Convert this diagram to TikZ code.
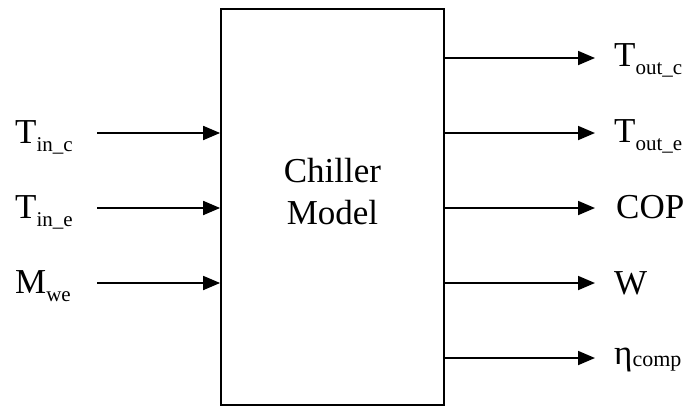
\documentclass[tikz,border=0pt]{standalone}
\usepackage{fontspec}
\setmainfont{Liberation Serif}
\usetikzlibrary{arrows.meta}
\newcommand\lsub[1]{\raisebox{-8pt}{\fontsize{21}{21}\selectfont #1}}
\newcommand\esub[1]{\raisebox{-2pt}{\fontsize{22}{22}\selectfont #1}}
\begin{document}
\begin{tikzpicture}[x=1pt,y=-1pt,
  sig/.style={line width=1.8pt,-{Triangle[length=17pt,width=14pt]}},
  lab/.style={anchor=base west,inner sep=0pt,font=\fontsize{35}{42}\selectfont},
  blk/.style={draw,line width=1.8pt,minimum width=223pt,minimum height=396pt,inner sep=0pt}]
\useasboundingbox (0,0) rectangle (691,408);
\node[blk] (box) at (332.5,207) {};
\node[align=center,font=\fontsize{35}{42}\selectfont,inner sep=0pt] (txt) at (332.5,192) {Chiller\\Model};
% inputs
\coordinate (i1) at (97,133);
\coordinate (i2) at (97,208);
\coordinate (i3) at (97,283);
\draw[sig] (i1) -- (i1 -| box.west);
\draw[sig] (i2) -- (i2 -| box.west);
\draw[sig] (i3) -- (i3 -| box.west);
\node[lab] (l1) at (15,143) {T\lsub{in\_c}};
\node[lab] (l2) at (15,218) {T\lsub{in\_e}};
\node[lab] (l3) at (15,293) {M\lsub{we}};
% outputs
\coordinate (o1) at (595,58);
\coordinate (o2) at (595,133);
\coordinate (o3) at (595,208);
\coordinate (o4) at (595,283);
\coordinate (o5) at (595,358);
\draw[sig] (o1 -| box.east) -- (o1);
\draw[sig] (o2 -| box.east) -- (o2);
\draw[sig] (o3 -| box.east) -- (o3);
\draw[sig] (o4 -| box.east) -- (o4);
\draw[sig] (o5 -| box.east) -- (o5);
\node[lab] (r1) at (614,66) {T\lsub{out\_c}};
\node[lab] (r2) at (614,142) {T\lsub{out\_e}};
\node[lab] (r3) at (616,218) {COP};
\node[lab] (r4) at (614,294) {W};
\node[lab] (r5) at (614,364) {η\esub{comp}};
\end{tikzpicture}
\end{document}
